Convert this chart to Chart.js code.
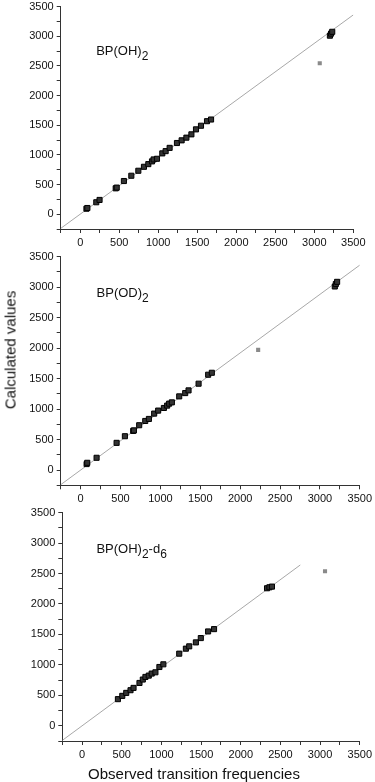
<!DOCTYPE html>
<html>
<head>
<meta charset="utf-8">
<script src="https://cdn.jsdelivr.net/npm/chart.js@4.4.1/dist/chart.umd.min.js"></script>
<style>
    html, body { margin: 0; padding: 0; background: #fff; }
    body { width: 375px; height: 782px; position: relative; overflow: hidden; font-family: "Liberation Sans", Arial, sans-serif; color: #111; }
    canvas { position: absolute; left: 0; }
    #ytitle { position: absolute; left: 10px; top: 350px; font-size: 15px; line-height: 15px; white-space: nowrap; transform: translate(-50%, -50%) rotate(-90deg); }
    #xtitle { position: absolute; left: 194px; top: 766px; font-size: 15px; line-height: 15px; white-space: nowrap; transform: translateX(-50%); }
</style>
</head>
<body>
<canvas id="panelOH"></canvas>
<canvas id="panelOD"></canvas>
<canvas id="panelD6"></canvas>
<div id="ytitle">Calculated values</div>
<div id="xtitle">Observed transition frequencies</div>
<script>
// tick labels (every 250 gets a tick, only these get a label)
const tickLabels = [0, 500, 1000, 1500, 2000, 2500, 3000, 3500];

// BP(OH)2
const obsOH  = [80, 92, 206, 248, 455, 468, 560, 655, 745, 817, 873, 920, 941, 984, 1052, 1095, 1146, 1240, 1300, 1361, 1425, 1484, 1548, 1625, 1677, 3200, 3215, 3230];
const calcOH = [92, 104, 201, 240, 436, 448, 559, 648, 732, 799, 844, 890, 923, 934, 1025, 1063, 1118, 1200, 1245, 1290, 1346, 1430, 1491, 1568, 1596, 3010, 3045, 3075];
const outObsOH  = [3070];
const outCalcOH = [2545];

// BP(OD)2
const obsOD  = [75, 83, 200, 451, 555, 659, 668, 734, 810, 856, 922, 972, 1044, 1085, 1110, 1144, 1236, 1311, 1353, 1479, 1599, 1645, 3187, 3200, 3216];
const calcOD = [98, 119, 201, 446, 555, 642, 650, 735, 805, 838, 926, 975, 1018, 1057, 1089, 1110, 1208, 1262, 1306, 1416, 1563, 1595, 3010, 3050, 3086];
const outObsOD  = [2226];
const outCalcOD = [1971];

// BP(OH)2-d6
const obsD6  = [451, 506, 556, 610, 648, 723, 765, 798, 840, 877, 924, 974, 1024, 1224, 1308, 1350, 1434, 1496, 1588, 1663, 2331, 2361, 2393];
const calcD6 = [437, 491, 540, 584, 622, 703, 759, 802, 824, 857, 878, 965, 1009, 1184, 1266, 1304, 1369, 1440, 1549, 1587, 2258, 2274, 2285];
const outObsD6  = [3062];
const outCalcD6 = [2536];

// fitted lines
const fitObs    = [-250, 3500];
const fitCalc   = [-240, 3360];
const fitObsD6  = [-250, 2750];
const fitCalcD6 = [-240, 2640];

const FONT = '"Liberation Sans", Arial, sans-serif';

// draws the compound name with its subscripts
const panelLabel = {
    id: 'panelLabel',
    afterDatasetsDraw(chart, args, opts) {
        const ctx = chart.ctx;
        let px = chart.scales.x.getPixelForValue(opts.at[0]);
        const py = chart.scales.y.getPixelForValue(opts.at[1]);
        ctx.save();
        ctx.fillStyle = '#111';
        ctx.textBaseline = 'alphabetic';
        ctx.textAlign = 'left';
        opts.parts.forEach(p => {
            ctx.font = (p.sub ? '12px ' : '13px ') + FONT;
            ctx.fillText(p.text, px, py + (p.sub ? 5 : 0));
            px += ctx.measureText(p.text).width;
        });
        ctx.restore();
    }
};

function toPoints(xs, ys) {
    return xs.map((x, i) => ({ x: x, y: ys[i] }));
}

function axis(fitSize) {
    return {
        type: 'linear',
        min: -250,
        max: 3500,
        afterFit: fitSize,
        grid: {
            display: true,
            drawOnChartArea: false,
            drawTicks: true,
            tickLength: 4,
            color: '#333'
        },
        border: { display: true, color: '#333', width: 1 },
        ticks: {
            stepSize: 250,
            autoSkip: false,
            maxRotation: 0,
            padding: 3,
            color: '#111',
            font: { size: 11, family: FONT },
            callback: function(value) {
                return tickLabels.includes(value) ? String(value) : '';
            }
        }
    };
}

function makePanel(id, g, obs, calc, outObs, outCalc, fx, fy, label) {
    const canvas = document.getElementById(id);
    canvas.width = 375;
    canvas.height = g.height;
    canvas.style.top = g.top + 'px';
    new Chart(canvas.getContext('2d'), {
        type: 'scatter',
        data: {
            datasets: [{
                data: toPoints(obs, calc),
                pointStyle: 'rect',
                pointRadius: 3.6,
                backgroundColor: '#333',
                borderColor: '#000',
                borderWidth: 1
            }, {
                data: toPoints(outObs, outCalc),
                pointStyle: 'rect',
                pointRadius: 2.9,
                backgroundColor: '#8a8a8a',
                borderColor: '#8a8a8a',
                borderWidth: 0
            }, {
                data: toPoints(fx, fy),
                showLine: true,
                pointRadius: 0,
                borderColor: '#a8a8a8',
                borderWidth: 1
            }]
        },
        options: {
            responsive: false,
            animation: false,
            events: [],
            layout: {
                padding: { top: g.padTop, right: g.padRight, bottom: 0, left: 0 }
            },
            plugins: {
                legend: { display: false },
                tooltip: { enabled: false },
                panelLabel: label
            },
            scales: {
                x: axis(s => { s.height = g.xHeight; }),
                y: axis(s => { s.width = g.yWidth; })
            }
        },
        plugins: [panelLabel]
    });
}

makePanel('panelOH', { top: -3, height: 253, padTop: 8.3, padRight: 21.7, xHeight: 21, yWidth: 60.7 },
    obsOH, calcOH, outObsOH, outCalcOH, fitObs, fitCalc,
    { at: [205, 2680], parts: [{ text: 'BP(OH)' }, { text: '2', sub: true }] });

makePanel('panelOD', { top: 247, height: 258, padTop: 8.7, padRight: 15, xHeight: 19.7, yWidth: 60.7 },
    obsOD, calcOD, outObsOD, outCalcOD, fitObs, fitCalc,
    { at: [200, 2840], parts: [{ text: 'BP(OD)' }, { text: '2', sub: true }] });

makePanel('panelD6', { top: 503, height: 259, padTop: 8.7, padRight: 13.3, xHeight: 21, yWidth: 62.3 },
    obsD6, calcD6, outObsD6, outCalcD6, fitObsD6, fitCalcD6,
    { at: [180, 2830], parts: [{ text: 'BP(OH)' }, { text: '2', sub: true }, { text: '-d' }, { text: '6', sub: true }] });
</script>
</body>
</html>
